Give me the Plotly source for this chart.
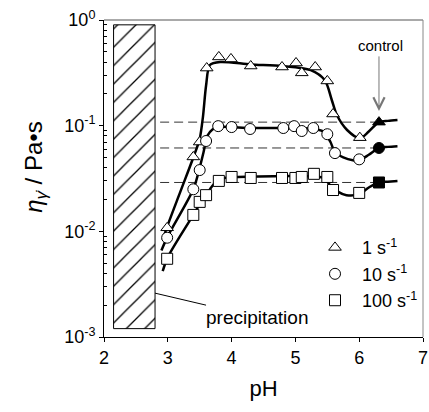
import math
import plotly.graph_objects as go

ph_1 = [2.99, 3.40, 3.50, 3.61, 3.80, 3.99, 4.30, 4.79, 5.01, 5.10, 5.31, 5.50, 5.59, 6.01]
eta_1 = [0.0108, 0.0506, 0.070, 0.351, 0.447, 0.428, 0.367, 0.359, 0.392, 0.316, 0.359, 0.265, 0.129, 0.077]

ph_10 = [2.99, 3.40, 3.50, 3.60, 3.79, 4.00, 4.29, 4.81, 4.98, 5.10, 5.28, 5.50, 5.62, 6.00]
eta_10 = [0.0087, 0.025, 0.038, 0.0716, 0.099, 0.097, 0.093, 0.095, 0.099, 0.089, 0.095, 0.083, 0.055, 0.048]

ph_100 = [2.99, 3.40, 3.50, 3.60, 3.80, 4.00, 4.30, 4.79, 5.00, 5.10, 5.29, 5.50, 5.59, 6.00]
eta_100 = [0.0055, 0.0143, 0.019, 0.022, 0.030, 0.0327, 0.032, 0.032, 0.032, 0.0327, 0.035, 0.0327, 0.0246, 0.0231]

# control sample (filled symbols) and its reference level
ph_control = [6.31]
eta_control_1 = [0.108]
eta_control_10 = [0.0615]
eta_control_100 = [0.029]
dash_ph = [2.88, 6.31]

# ---- fitted curves ----
fit_ph_1 = [2.92, 3.00, 3.20, 3.40, 3.50, 3.55, 3.60, 3.66, 3.82, 4.30, 4.80, 5.24, 5.46, 5.57, 5.65, 5.81, 6.01, 6.15, 6.31, 6.45, 6.60]
fit_eta_1 = [0.0083, 0.0115, 0.024, 0.050, 0.075, 0.12, 0.24, 0.375, 0.40, 0.38, 0.367, 0.336, 0.27, 0.175, 0.126, 0.091, 0.076, 0.088, 0.108, 0.111, 0.113]

fit_ph_10 = [2.90, 3.00, 3.40, 3.50, 3.56, 3.62, 3.70, 3.80, 4.30, 5.00, 5.30, 5.45, 5.55, 5.62, 5.75, 5.90, 6.00, 6.15, 6.31, 6.45, 6.60]
fit_eta_10 = [0.0066, 0.0090, 0.025, 0.040, 0.056, 0.080, 0.092, 0.097, 0.095, 0.095, 0.093, 0.087, 0.070, 0.056, 0.050, 0.047, 0.047, 0.053, 0.0615, 0.063, 0.064]

fit_ph_100 = [2.92, 3.00, 3.40, 3.50, 3.60, 3.70, 3.80, 4.00, 5.30, 5.45, 5.55, 5.65, 5.80, 6.00, 6.15, 6.31, 6.45, 6.60]
fit_eta_100 = [0.0042, 0.0057, 0.0143, 0.018, 0.022, 0.027, 0.031, 0.0325, 0.033, 0.032, 0.027, 0.024, 0.022, 0.0225, 0.026, 0.029, 0.0295, 0.030]

# precipitation region
precip_ph = [2.15, 2.80]
precip_eta = [0.0012, 0.9]

# axis ticks
x_ticks = [2, 3, 4, 5, 6, 7]
y_ticks = [0.001, 0.01, 0.1, 1]
y_ticktext = ["10<sup>-3</sup>", "10<sup>-2</sup>", "10<sup>-1</sup>", "10<sup>0</sup>"]
y_minor = [m * d for d in [0.001, 0.01, 0.1] for m in range(2, 10)]

series_names = ["1 s<sup>-1</sup>", "10 s<sup>-1</sup>", "100 s<sup>-1</sup>"]
symbols = ["triangle-up", "circle", "square"]

FONT = "Liberation Sans, Arial, sans-serif"

fig = go.Figure()

# hatched precipitation box
fig.add_trace(go.Scatter(
    x=[precip_ph[0], precip_ph[1], precip_ph[1], precip_ph[0], precip_ph[0]],
    y=[precip_eta[0], precip_eta[0], precip_eta[1], precip_eta[1], precip_eta[0]],
    mode="lines", fill="toself", fillcolor="white",
    fillpattern=dict(shape="/", fgcolor="black", bgcolor="white", size=13, solidity=0.1, fgopacity=1),
    line=dict(color="black", width=1), showlegend=False, hoverinfo="skip"))

# dashed control levels
for lvl in [eta_control_1, eta_control_10, eta_control_100]:
    fig.add_trace(go.Scatter(x=dash_ph, y=[lvl[0], lvl[0]], mode="lines",
                             line=dict(color="#333333", width=1, dash="9px,5px"),
                             showlegend=False, hoverinfo="skip"))

# fitted curves
for fx, fy in [(fit_ph_1, fit_eta_1), (fit_ph_10, fit_eta_10), (fit_ph_100, fit_eta_100)]:
    fig.add_trace(go.Scatter(x=fx, y=fy, mode="lines", line=dict(color="black", width=2.5, shape="spline", smoothing=0.8),
                             showlegend=False, hoverinfo="skip"))

# data markers
for (px, py, ctrl), name, sym in zip([(ph_1, eta_1, eta_control_1), (ph_10, eta_10, eta_control_10),
                                       (ph_100, eta_100, eta_control_100)], series_names, symbols):
    fig.add_trace(go.Scatter(x=px, y=py, mode="markers", name=name,
                             marker=dict(symbol=sym, size=11, color="white", line=dict(color="black", width=1))))
    fig.add_trace(go.Scatter(x=ph_control, y=ctrl, mode="markers", showlegend=False,
                             marker=dict(symbol=sym, size=11, color="black", line=dict(color="black", width=1))))

# frame top/right (gray)
fig.add_shape(type="line", xref="paper", yref="paper", x0=0, x1=1, y0=1, y1=1, line=dict(color="#555555", width=1))
fig.add_shape(type="line", xref="paper", yref="paper", x0=1, x1=1, y0=0, y1=1, line=dict(color="#888888", width=1))

# annotations (annotation y on a log axis is given as log10 of the value)
fig.add_annotation(x=6.33, y=math.log10(0.58), text="control", showarrow=False,
                   font=dict(family=FONT, size=15, color="black"))
fig.add_annotation(x=ph_control[0], y=math.log10(0.138), ax=0, ay=-56, text="", showarrow=True, arrowhead=5,
                   arrowsize=2.2, arrowwidth=1, arrowcolor="#777777")
fig.add_annotation(x=precip_ph[1], y=math.log10(0.0026), ax=102, ay=24, text="precipitation", showarrow=True,
                   arrowhead=0, arrowwidth=1, arrowcolor="black", font=dict(family=FONT, size=19, color="black"))
# y-axis title
fig.add_annotation(xref="paper", yref="paper", x=-0.27, y=0.535, text="<i>η</i><sub><i>γ̇</i></sub> / Pa•s",
                   textangle=-90, showarrow=False, font=dict(family=FONT, size=24, color="black"))

fig.update_xaxes(range=[2, 7], tickvals=x_ticks, ticks="outside", ticklen=4, tickcolor="black",
                 showline=True, linecolor="black", linewidth=1, showgrid=False, zeroline=False, automargin=False,
                 ticklabeloverflow="allow",
                 tickfont=dict(family=FONT, size=18, color="black"),
                 title=dict(text="pH", font=dict(family=FONT, size=22, color="black"), standoff=14))
fig.update_yaxes(type="log", range=[-3, 0], tickvals=y_ticks, ticktext=y_ticktext, ticks="outside", ticklen=4,
                 tickcolor="black", showline=True, linecolor="black", linewidth=1, showgrid=False, zeroline=False,
                 automargin=False, ticklabeloverflow="allow",
                 minor=dict(tickvals=y_minor, ticks="inside", ticklen=3, tickcolor="black", showgrid=False),
                 tickfont=dict(family=FONT, size=18, color="black"))

fig.update_layout(width=429, height=412, margin=dict(l=104, r=6, t=20, b=75),
                  plot_bgcolor="white", paper_bgcolor="white",
                  legend=dict(x=1.0, y=0.34, xanchor="right", yanchor="top", bgcolor="rgba(0,0,0,0)",
                              font=dict(family=FONT, size=18, color="black"), itemwidth=44, tracegroupgap=0),
                  font=dict(family=FONT, color="black"))

fig.write_html("out.html", config={"displayModeBar": False},
               post_script="document.body.style.margin='0';")
